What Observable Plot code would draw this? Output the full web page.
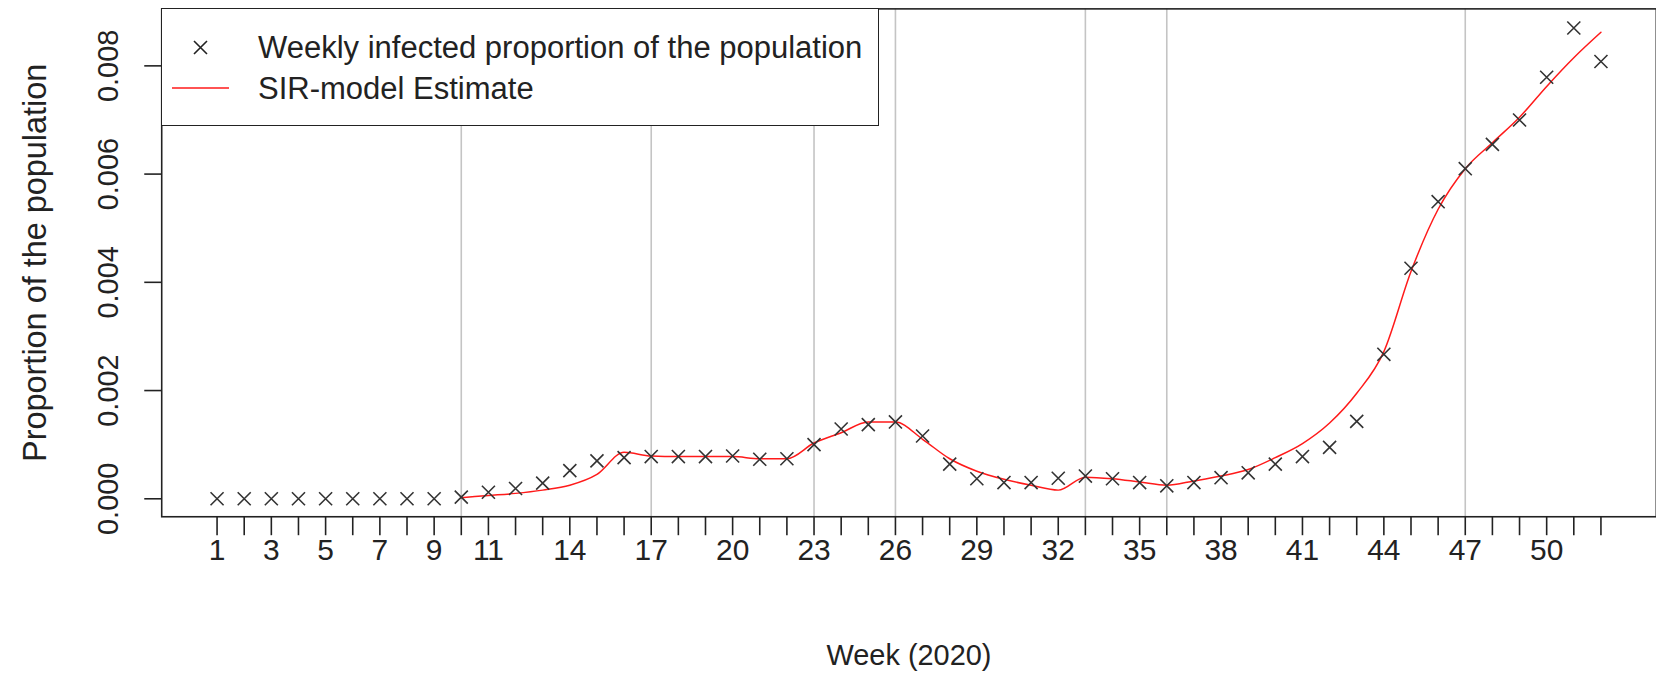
<!DOCTYPE html>
<html>
<head>
<meta charset="utf-8">
<script src="https://cdn.jsdelivr.net/npm/d3@7"></script>
<script src="https://cdn.jsdelivr.net/npm/@observablehq/plot@0.6"></script>
<style>
  html, body { margin: 0; padding: 0; background: #fff; overflow: hidden; }
  #wrap { position: relative; width: 1656px; height: 673px; overflow: hidden; font-family: "Liberation Sans", Arial, sans-serif; }
  #legend { position: absolute; left: 161px; top: 7.5px; width: 716px; height: 116px; background: #fff; border: 1.6px solid #222; }
  #legend svg { position: absolute; left: 0; top: 0; }
  .lt { position: absolute; left: 96px; font-size: 31px; color: #222; white-space: nowrap; line-height: 1; }
</style>
</head>
<body>
<div id="wrap"></div>
<script>
// ---- data ----
const weeks = d3.range(1, 53);
const observed = [
  0, 0, 0, 0, 0, 0, 0, 0, 0, 0.00003,
  0.00012, 0.00019, 0.00029, 0.00052, 0.0007, 0.00076, 0.00078, 0.00078, 0.00078, 0.00079,
  0.00073, 0.00074, 0.001, 0.00129, 0.00137, 0.00142, 0.00116, 0.00064, 0.00037, 0.0003,
  0.0003, 0.00038, 0.00042, 0.00037, 0.0003, 0.00024, 0.0003, 0.00039, 0.00048, 0.00064,
  0.00078, 0.00095, 0.00143, 0.00267, 0.00426, 0.00549, 0.0061, 0.00655, 0.007, 0.00779,
  0.0087, 0.00808
];
const sirWeeks = d3.range(10, 53);
const sirEstimate = [
  0.00002, 0.00006, 0.0001, 0.00016, 0.00025, 0.00045, 0.00086, 0.00079, 0.00078, 0.00078,
  0.00078, 0.00074, 0.00074, 0.00103, 0.00122, 0.00142, 0.00142, 0.0011, 0.00074, 0.00051,
  0.00036, 0.00025, 0.00016, 0.0004, 0.00037, 0.00031, 0.00025, 0.00033, 0.00042, 0.00054,
  0.00076, 0.00102, 0.0014, 0.00195, 0.00272, 0.0042, 0.00535, 0.0061, 0.00658, 0.00705,
  0.00762, 0.00815, 0.00862
];
const gridWeeks = [10, 17, 23, 26, 33, 36, 47];
const xTickLabels = [1, 3, 5, 7, 9, 11, 14, 17, 20, 23, 26, 29, 32, 35, 38, 41, 44, 47, 50];
const yTicks = [0, 0.002, 0.004, 0.006, 0.008];
const xTitle = "Week (2020)";
const yTitle = "Proportion of the population";
const legendLabels = ["Weekly infected proportion of the population", "SIR-model Estimate"];

const obsData = weeks.map((w, i) => ({week: w, value: observed[i]}));
const sirData = sirWeeks.map((w, i) => ({week: w, value: sirEstimate[i]}));

const ink = "#222";
const chart = Plot.plot({
  width: 1660,
  height: 673,
  marginLeft: 161.6,
  marginRight: 0.2,
  marginTop: 8.4,
  marginBottom: 155.5,
  style: {fontFamily: '"Liberation Sans", Arial, sans-serif', fontSize: "29px", color: ink, background: "#fff"},
  x: {domain: [-1.04, 54.04]},
  y: {domain: [-0.000332, 0.009053]},
  marks: [
    Plot.ruleX(gridWeeks, {stroke: "#c4c4c4", strokeWidth: 1.6}),
    Plot.line(sirData, {x: "week", y: "value", stroke: "#ff1a1a", strokeWidth: 1.5, curve: "monotone-x"}),
    Plot.dot(obsData, {x: "week", y: "value", symbol: "times", r: 6, stroke: "#333", strokeWidth: 1.6}),
    Plot.frame({stroke: ink, strokeWidth: 1.6}),
    Plot.axisX({
      ticks: weeks, tickSize: 19, tickPadding: 3.5, stroke: ink, strokeWidth: 1.6,
      tickFormat: d => xTickLabels.includes(d) ? String(d) : "",
      fontSize: 30, fill: ink, label: null
    }),
    Plot.axisY({
      ticks: yTicks, tickSize: 17, tickRotate: -90, tickPadding: 26.5, stroke: ink, strokeWidth: 1.6,
      tickFormat: d3.format(".3f"), fontSize: 29, fill: ink, label: null
    }),
    Plot.text([xTitle], {frameAnchor: "bottom", dy: 149, fontSize: 29, fill: ink}),
    Plot.text([yTitle], {frameAnchor: "left", dx: -126, rotate: -90, textAnchor: "middle", fontSize: 32.5, fill: ink})
  ]
});
const wrap = document.getElementById("wrap");
wrap.appendChild(chart);

// legend (overlaid at top-left of plot area, like R's legend("topleft"))
const legend = document.createElement("div");
legend.id = "legend";
legend.innerHTML = `
  <svg width="100" height="116">
    <path d="M32 32 L45 45 M32 45 L45 32" stroke="#222" stroke-width="1.6" fill="none"/>
    <line x1="10" x2="67" y1="79" y2="79" stroke="#ff1a1a" stroke-width="1.6"/>
  </svg>
  <div class="lt" style="top:23px">${legendLabels[0]}</div>
  <div class="lt" style="top:64px">${legendLabels[1]}</div>`;
wrap.appendChild(legend);
</script>
</body>
</html>
